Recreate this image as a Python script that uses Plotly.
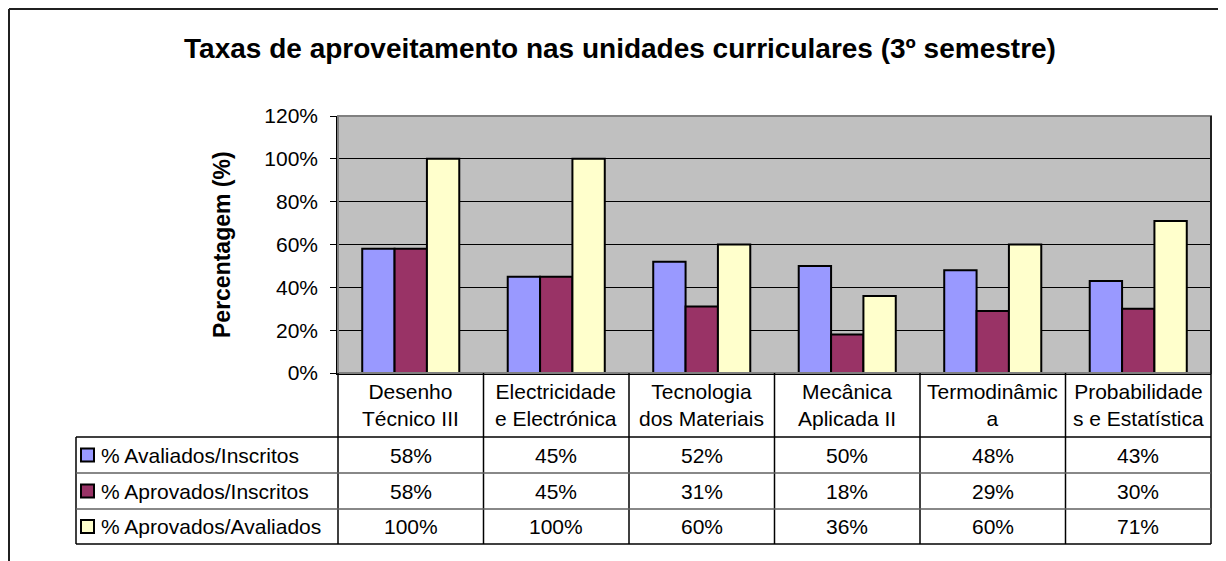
import plotly.graph_objects as go

# ── Données ──────────────────────────────────────────────────────────────────
categorias = [
    "Desenho<br>Técnico III",
    "Electricidade<br>e Electrónica",
    "Tecnologia<br>dos Materiais",
    "Mecânica<br>Aplicada II",
    "Termodinâmic<br>a",
    "Probabilidade<br>s e Estatística",
]
series = [
    "% Avaliados/Inscritos",
    "% Aprovados/Inscritos",
    "% Aprovados/Avaliados",
]
avaliados_inscritos = [58, 45, 52, 50, 48, 43]
aprovados_inscritos = [58, 45, 31, 18, 29, 30]
aprovados_avaliados = [100, 100, 60, 36, 60, 71]
cores = ["#9999FF", "#993366", "#FFFFCC"]

valores = [avaliados_inscritos, aprovados_inscritos, aprovados_avaliados]

# ── Géométrie (pixels de la capture) ─────────────────────────────────────────
# la page html a une marge de 8 px autour de la figure
OFF = 8
W, H = 1226 - OFF, 561 - OFF
L, R, T, B = 338 - OFF, 1211 - OFF, 116 - OFF, 373 - OFF
PW, PH = R - L, B - T


def px_x(x):
    return (x - OFF - L) / PW


def px_y(y):
    return (B - (y - OFF)) / PH


FONT = "Liberation Sans, Arial, sans-serif"
FS = 21

fig = go.Figure()
xs = list(range(len(categorias)))
for nome, vals, cor in zip(series, valores, cores):
    fig.add_trace(go.Bar(
        x=xs, y=vals, name=nome,
        marker=dict(color=cor, line=dict(color="black", width=2)),
        showlegend=False,
    ))

shapes = []
annotations = []

# moldura exterior (recortada à direita e em baixo)
shapes.append(dict(type="line", xref="paper", yref="paper",
                   x0=px_x(9), x1=px_x(1300), y0=px_y(9), y1=px_y(9),
                   line=dict(color="#202020", width=2)))
shapes.append(dict(type="line", xref="paper", yref="paper",
                   x0=px_x(9), x1=px_x(9), y0=px_y(9), y1=px_y(620),
                   line=dict(color="#202020", width=2)))

# contorno da área do gráfico
shapes.append(dict(type="rect", xref="paper", yref="paper", x0=0, x1=1, y0=0, y1=1,
                   line=dict(color="#808080", width=2), layer="above"))

# tabela de dados
y_rows = [px_y(437), px_y(473), px_y(509), px_y(544)]
x_tab = px_x(76)
n = len(categorias)
for k in range(n + 1):
    top = 1 if k == n else 0
    shapes.append(dict(type="line", xref="paper", yref="paper",
                       x0=k / n, x1=k / n, y0=top, y1=y_rows[-1],
                       line=dict(color="black", width=1.5)))
shapes.append(dict(type="line", xref="paper", yref="paper",
                   x0=x_tab, x1=x_tab, y0=y_rows[0], y1=y_rows[-1],
                   line=dict(color="black", width=1.5)))
for i, yy in enumerate(y_rows):
    cor_l = "black" if i in (0, 3) else "#606060"
    shapes.append(dict(type="line", xref="paper", yref="paper",
                       x0=x_tab, x1=1, y0=yy, y1=yy,
                       line=dict(color=cor_l, width=1.5)))

# cabeçalho das categorias
for i, c in enumerate(categorias):
    annotations.append(dict(x=i, xref="x", y=px_y(405), yref="paper", text=c,
                            showarrow=False, font=dict(family=FONT, size=FS, color="black"),
                            xanchor="center", yanchor="middle"))

# linhas da tabela: chave + nome + valores
for r, (nome, vals, cor) in enumerate(zip(series, valores, cores)):
    yc = (y_rows[r] + y_rows[r + 1]) / 2
    shapes.append(dict(type="rect", xref="paper", yref="paper",
                       x0=px_x(81), x1=px_x(94),
                       y0=yc - 6.5 / PH, y1=yc + 6.5 / PH,
                       fillcolor=cor, line=dict(color="black", width=2)))
    annotations.append(dict(x=px_x(99), xref="paper", y=yc, yref="paper", text=nome,
                            showarrow=False, font=dict(family=FONT, size=FS, color="black"),
                            xanchor="left", yanchor="middle"))
    for i, v in enumerate(vals):
        annotations.append(dict(x=i, xref="x", y=yc, yref="paper", text=f"{v}%",
                                showarrow=False, font=dict(family=FONT, size=FS, color="black"),
                                xanchor="center", yanchor="middle"))

# título do eixo y
annotations.append(dict(x=px_x(222), xref="paper", y=px_y(245), yref="paper",
                        text="<b>Percentagem (%)</b>", textangle=-90, showarrow=False,
                        font=dict(family=FONT, size=23, color="black"),
                        xanchor="center", yanchor="middle"))

fig.update_layout(
    width=W, height=H,
    margin=dict(l=L, r=W - R, t=T, b=H - B, autoexpand=False),
    paper_bgcolor="white",
    plot_bgcolor="#C0C0C0",
    barmode="group",
    bargap=0.333,
    bargroupgap=0,
    title=dict(text="<b>Taxas de aproveitamento nas unidades curriculares (3º semestre)</b>",
               x=(620 - OFF) / W, xanchor="center", y=1 - (48 - OFF) / H, yanchor="middle",
               font=dict(family=FONT, size=28, color="black")),
    font=dict(family=FONT, size=FS, color="black"),
    xaxis=dict(range=[-0.5, n - 0.5], showticklabels=False, showgrid=False,
               showline=True, linecolor="black", linewidth=2, zeroline=False, fixedrange=True),
    yaxis=dict(range=[0, 120], dtick=20, ticksuffix="%", showgrid=True, gridcolor="black",
               gridwidth=1, showline=True, linecolor="black", linewidth=1.5,
               ticks="outside", ticklen=6, tickcolor="black", ticklabelstandoff=8,
               tickfont=dict(family=FONT, size=FS, color="black"), zeroline=False),
    shapes=shapes,
    annotations=annotations,
)

fig.write_html("out.html")
